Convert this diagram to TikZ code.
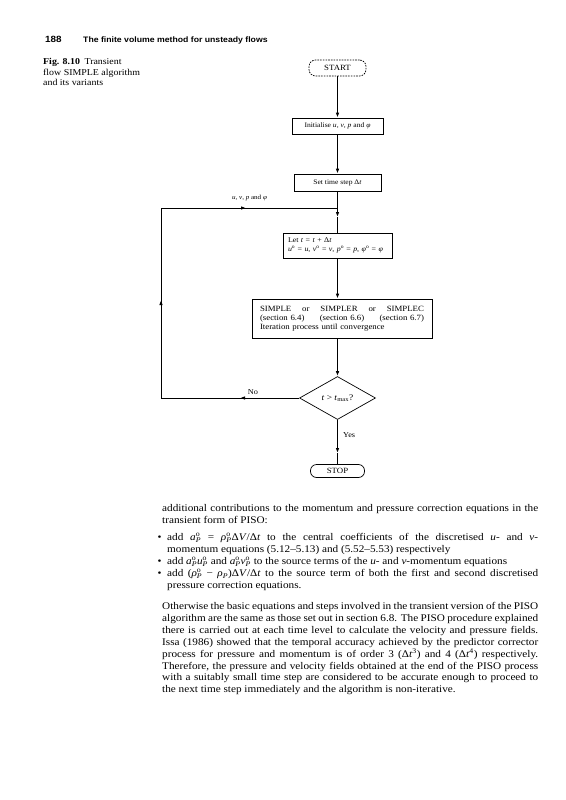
\documentclass[tikz,border=0pt]{standalone}
\usepackage{fontspec}
\setmainfont{Liberation Serif}[FakeStretch=1.1]
\newfontfamily\hdrfont{Liberation Sans}[FakeStretch=1.1]
\usetikzlibrary{shapes.geometric,arrows.meta}
\newcommand\ii[1]{\textit{#1}}
\newcommand\SupSub[2]{\makebox[0pt][l]{\textsuperscript{#1}}\textsubscript{#2}}
\begin{document}
\begin{tikzpicture}[x=1pt,y=-1pt,
  flowbox/.style={draw, line width=0.7pt, inner sep=0pt, font=\fontsize{6.9}{8}\selectfont},
  termbox/.style={draw, rounded corners=6.5pt, line width=0.7pt, inner sep=0pt, font=\fontsize{8}{9}\selectfont},
  flowline/.style={line width=1.4pt},
  loopline/.style={line width=1pt},
  arrtip/.style={-{Latex[length=5pt,width=3.6pt]}},
  lbltxt/.style={inner sep=0pt, font=\fontsize{7.5}{9}\selectfont},
  bodytxt/.style={anchor=base west, inner sep=0pt, font=\fontsize{10.2}{12}\selectfont},
  captxt/.style={anchor=base west, inner sep=0pt, font=\fontsize{9}{9}\selectfont},
  hdrtxt/.style={anchor=base west, inner sep=0pt}]
\fill[white] (0,0) rectangle (565,800);
\useasboundingbox (0,0) rectangle (565,800);
% header
\node[hdrtxt, font=\hdrfont\bfseries\fontsize{9}{10}\selectfont] (pg) at (45,42.5) {188};
\node[hdrtxt, font=\hdrfont\bfseries\fontsize{7.9}{9}\selectfont] (hd) at (83,42.5) {The finite volume method for unsteady flows};
% caption
\node[captxt] (c1) at (43,64.5) {\textbf{Fig. 8.10}\enspace Transient};
\node[captxt] (c2) at (43,75) {flow SIMPLE algorithm};
\node[captxt] (c3) at (43,85.5) {and its variants};
% flowchart
\node[termbox, dash pattern=on 1.6pt off 1.1pt, minimum width=57pt, minimum height=16pt] (start) at (337.5,68) {START};
\node[flowbox, minimum width=91pt, minimum height=16pt] (init) at (337.5,126) {Initialise \ii{u}, \ii{v}, \ii{p} and \ii{φ}};
\node[flowbox, minimum width=87pt, minimum height=17pt] (set) at (337.5,182.5) {Set time step Δ\ii{t}};
\node[flowbox, inner xsep=5pt, text width=99pt, minimum height=25pt, align=left, font=\fontsize{7.2}{9.5}\selectfont] (let) at (337.5,245.5)
  {Let \ii{t} = \ii{t} + Δ\ii{t}\\ \mbox{\ii{u}\textsuperscript{o} = \ii{u}, \ii{v}\textsuperscript{o} = \ii{v}, \ii{p}\textsuperscript{o} = \ii{p}, \ii{φ}\textsuperscript{o} = \ii{φ}}};
\node[flowbox, inner xsep=8pt, text width=164pt, minimum height=39pt, align=left, font=\fontsize{8}{9}\selectfont] (simple) at (342,318.5)
  {\makebox[164pt]{SIMPLE\hfill or\hfill SIMPLER\hfill or\hfill SIMPLEC}\\
   \makebox[164pt]{(section 6.4)\hfill (section 6.6)\hfill (section 6.7)}\\
   Iteration process until convergence};
\node[draw, diamond, aspect=1.77, minimum width=76pt, minimum height=43pt, inner sep=0pt, line width=0.7pt, font=\fontsize{8.6}{9}\selectfont] (dec) at (337.5,398) {\ii{t} > \ii{t}\textsubscript{max}?};
\node[termbox, rounded corners=6pt, minimum width=54pt, minimum height=13pt] (stop) at (337.5,471) {STOP};
\coordinate (J) at (337.5,208);
\coordinate (jarr) at (337.5,217);
\coordinate (sarr) at (337.5,453);
\coordinate (LB) at (161,398);
\coordinate (LT) at (161,208);
\coordinate (noarr) at (240,398);
\coordinate (uparr) at (161,300);
\coordinate (rarr) at (246,208);
\draw[flowline,arrtip] (start.south) -- (init.north);
\draw[flowline,arrtip] (init.south) -- (set.north);
\draw[flowline] (set.south) -- (J);
\draw[flowline,arrtip] (J) -- (jarr);
\draw[flowline] (jarr) -- (let.north);
\draw[flowline,arrtip] (let.south) -- (let.south |- simple.north);
\draw[flowline,arrtip] (let.south |- simple.south) -- (dec.north);
\draw[flowline,arrtip] (dec.south) -- (sarr);
\draw[flowline] (sarr) -- (stop.north);
\draw[loopline] (dec.west) -- (LB) -- (LT) -- (J);
\draw[loopline,arrtip] (dec.west) -- (noarr);
\draw[loopline,arrtip] (LB) -- (uparr);
\draw[loopline,arrtip] (LT) -- (rarr);
\node[lbltxt, font=\fontsize{6.4}{8}\selectfont] (lab) at (249.5,198) {\ii{u}, \ii{v}, \ii{p} and \ii{φ}};
\node[lbltxt] (no) at (253,392) {No};
\node[lbltxt, anchor=west] (yes) at (343,435) {Yes};
% text
\node[bodytxt] (l1) at (162,511.5) {\makebox[376pt][s]{additional contributions to the momentum and pressure correction equations in the}};
\node[bodytxt] (l2) at (162,523.5) {transient form of PISO:};
\node[bodytxt] (b1) at (157.5,540.5) {•};
\node[bodytxt] (l3) at (167,540.5) {\makebox[371pt][s]{add \ii{a}\SupSub{o}{\ii{P}} = \ii{ρ}\SupSub{o}{\ii{P}}Δ\ii{V}/Δ\ii{t} to the central coefficients of the discretised \ii{u}- and \ii{v}-}};
\node[bodytxt] (l4) at (167,552.5) {momentum equations (5.12--5.13) and (5.52--5.53) respectively};
\node[bodytxt] (b2) at (157.5,564.5) {•};
\node[bodytxt] (l5) at (167,564.5) {add \ii{a}\SupSub{o}{\ii{P}}\ii{u}\SupSub{o}{\ii{P}} and \ii{a}\SupSub{o}{\ii{P}}\ii{v}\SupSub{o}{\ii{P}} to the source terms of the \ii{u}- and \ii{v}-momentum equations};
\node[bodytxt] (b3) at (157.5,576.5) {•};
\node[bodytxt] (l6) at (167,576.5) {\makebox[371pt][s]{add (\ii{ρ}\SupSub{o}{\ii{P}} − \ii{ρ}\textsubscript{\ii{P}})Δ\ii{V}/Δ\ii{t} to the source term of both the first and second discretised}};
\node[bodytxt] (l7) at (167,588.5) {pressure correction equations.};
\node[bodytxt] (p1) at (162,609.5) {\makebox[376pt][s]{Otherwise the basic equations and steps involved in the transient version of the PISO}};
\node[bodytxt] (p2) at (162,621.4) {\makebox[376pt][s]{algorithm are the same as those set out in section 6.8. The PISO procedure explained}};
\node[bodytxt] (p3) at (162,633.3) {\makebox[376pt][s]{there is carried out at each time level to calculate the velocity and pressure fields.}};
\node[bodytxt] (p4) at (162,645.2) {\makebox[376pt][s]{Issa (1986) showed that the temporal accuracy achieved by the predictor corrector}};
\node[bodytxt] (p5) at (162,657.1) {\makebox[376pt][s]{process for pressure and momentum is of order 3 (Δ\ii{t}\textsuperscript{3}) and 4 (Δ\ii{t}\textsuperscript{4}) respectively.}};
\node[bodytxt] (p6) at (162,669) {\makebox[376pt][s]{Therefore, the pressure and velocity fields obtained at the end of the PISO process}};
\node[bodytxt] (p7) at (162,680.9) {\makebox[376pt][s]{with a suitably small time step are considered to be accurate enough to proceed to}};
\node[bodytxt] (p8) at (162,692.8) {the next time step immediately and the algorithm is non-iterative.};
\end{tikzpicture}
\end{document}
